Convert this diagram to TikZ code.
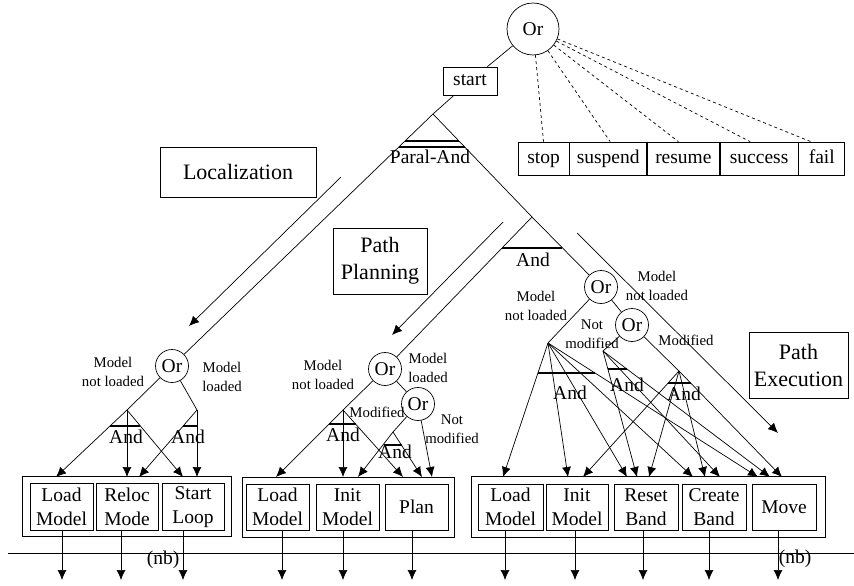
\documentclass[tikz,border=0pt]{standalone}
\usepackage{fontspec}
\setmainfont{Liberation Serif}
\usetikzlibrary{arrows.meta, positioning}
\newcommand{\boxfont}{\fontsize{19.5}{23.5}\selectfont}
\newcommand{\labfont}{\fontsize{14.8}{18.5}\selectfont}
\newcommand{\bigfont}{\fontsize{22}{27}\selectfont}
\tikzstyle{orgate} =
[
	circle
	, minimum size=33pt
	, inner sep=0pt
	, draw=black
	, font=\boxfont
]
\tikzstyle{task} =
[
	rectangle
	, minimum width=63pt
	, minimum height=47pt
	, inner sep=0pt
	, align=center
	, draw=black
	, font=\boxfont
]
\tikzstyle{status} =
[
	rectangle
	, minimum height=33pt
	, inner sep=0pt
	, text height=13pt
	, text depth=4pt
	, draw=black
	, font=\boxfont
]
\tikzstyle{group} = [rectangle, inner sep=0pt, draw=black]
\tikzstyle{phase} = [rectangle, inner sep=0pt, align=center, draw=black, font=\bigfont]
\tikzstyle{note} = [inner sep=0pt, align=center, font=\labfont]
\tikzstyle{gate} = [inner sep=0pt, font=\boxfont]
\tikzstyle{bar} = [line width=1.6pt]
\tikzstyle{arrow} = [->,>={Latex[length=10pt,width=9pt]}]
\begin{document}
\begin{tikzpicture}[x=1pt, y=-1pt, line width=0.7pt]
\useasboundingbox (0,0) rectangle (854,586);

\node(or0)[orgate, minimum size=52pt] at (533,29){Or};
\node(start)[status, minimum width=54pt, minimum height=28pt] at (470,81){start};
\node(stop)[status, minimum width=51pt] at (543.5,158.5){stop};
\node(suspend)[status, minimum width=77pt, right=0pt of stop]{suspend};
\node(resume)[status, minimum width=72pt, right=0pt of suspend]{resume};
\node(success)[status, minimum width=78pt, right=0pt of resume]{success};
\node(fail)[status, minimum width=46pt, right=0pt of success]{fail};

\node(loc)[phase, minimum width=156pt, minimum height=50pt] at (238,172){Localization};
\node(plan)[phase, minimum width=94pt, minimum height=66pt] at (380,261){Path\\Planning};
\node(exec)[phase, minimum width=99pt, minimum height=66pt] at (798.5,365){Path\\Execution};

\coordinate(paral) at (433,114);
\coordinate(and2) at (532,217);
\node(paraltxt)[gate] at (430,157){Paral-And};
\node(and2txt)[gate] at (533,260){And};

\node(or1)[orgate] at (172,366){Or};
\node(or2)[orgate] at (385,369){Or};
\node(or2b)[orgate] at (418,404){Or};
\node(or3)[orgate] at (601,287){Or};
\node(or4)[orgate] at (632,325){Or};

\coordinate(a1) at (127,410);
\coordinate(b1) at (197,410);
\coordinate(a2) at (343,410);
\coordinate(b2) at (393,432);
\coordinate(c3) at (548,343);
\coordinate(d3) at (603,351);
\coordinate(e3) at (679,371);

\node(a1txt)[gate] at (126,437){And};
\node(b1txt)[gate] at (188,437){And};
\node(a2txt)[gate] at (343,435){And};
\node(b2txt)[gate] at (395,452){And};
\node(c3txt)[gate] at (570,393){And};
\node(d3txt)[gate] at (627,385){And};
\node(e3txt)[gate] at (684,394){And};

\node(n1l)[note] at (113,372){Model\\not loaded};
\node(n1r)[note] at (222,377){Model\\loaded};
\node(n2l)[note] at (323,375){Model\\not loaded};
\node(n2r)[note] at (428,368){Model\\loaded};
\node(n2m)[note] at (377,412){Modified};
\node(n2n)[note] at (452,429){Not\\modified};
\node(n3l)[note] at (536,306){Model\\not loaded};
\node(n3r)[note] at (657,286){Model\\not loaded};
\node(n3n)[note] at (592,334){Not\\modified};
\node(n3m)[note] at (686,340){Modified};

\node(grp1)[group, minimum width=209pt, minimum height=60pt] at (126.5,506){};
\node(grp2)[group, minimum width=212pt, minimum height=60pt] at (348,507){};
\node(grp3)[group, minimum width=354pt, minimum height=61pt] at (648,506.5){};

\node(lm1)[task] at (61.5,507){Load\\Model};
\node(rm1)[task, minimum width=62pt] at (127,507){Reloc\\Mode};
\node(sl1)[task, minimum width=62pt] at (193,507){Start\\Loop};
\node(lm2)[task, minimum height=46pt] at (277.5,507){Load\\Model};
\node(im2)[task, minimum height=46pt] at (347.5,507){Init\\Model};
\node(pl2)[task, minimum height=46pt] at (416.5,507){Plan};
\node(lm3)[task, minimum width=65pt, minimum height=46pt] at (510.5,507){Load\\Model};
\node(im3)[task, minimum width=62pt, minimum height=46pt] at (577,507){Init\\Model};
\node(rb3)[task, minimum width=64pt, minimum height=46pt] at (646,507){Reset\\Band};
\node(cb3)[task, minimum width=64pt, minimum height=46pt] at (714,507){Create\\Band};
\node(mv3)[task, minimum width=64pt, minimum height=46pt] at (784,507){Move};

\node(nb1)[gate] at (163,560){(nb)};
\node(nb2)[gate] at (795,559){(nb)};

\draw(or0)--(start);
\draw(start)--(paral);
\draw[dashed](or0)--(stop.north);
\draw[dashed](or0)--([xshift=2pt]suspend.north);
\draw[dashed](or0)--([xshift=-5pt]resume.north);
\draw[dashed](or0)--([xshift=-9pt]success.north);
\draw[dashed](or0)--([xshift=-11pt]fail.north);

\draw(paral)--(or1);
\draw(paral)--(and2);
\draw(and2)--(or2);
\draw(and2)--(or3);
\draw[bar](405,141)--(459,141);
\draw[bar](399,147)--(465,147);
\draw[bar](502,248)--(562,248);

\coordinate(locfrom) at (341,177);
\coordinate(locto) at (189,326);
\coordinate(planfrom) at (503,222);
\coordinate(planto) at (392,335);
\coordinate(execfrom) at (577,233);
\coordinate(execto) at (778,433);
\draw[arrow](locfrom)--(locto);
\draw[arrow](planfrom)--(planto);
\draw[arrow](execfrom)--(execto);

\coordinate(lm1in) at (56,477);
\coordinate(rm1in) at (127,477);
\coordinate(rm1in2) at (139,477);
\coordinate(sl1in) at (183,477);
\coordinate(sl1in2) at (197,477);
\draw(or1)--(a1);
\draw(or1)--(b1);
\draw[arrow](a1)--(lm1in);
\draw[arrow](a1)--(rm1in);
\draw[arrow](a1)--(sl1in);
\draw[arrow](b1)--(rm1in2);
\draw[arrow](b1)--(sl1in2);
\draw[bar](110,426)--(140,426);
\draw[bar](183,426)--(197,426);

\coordinate(lm2in) at (276,477);
\coordinate(im2in) at (343,477);
\coordinate(im2in2) at (358,477);
\coordinate(pl2in) at (403,477);
\coordinate(pl2in2) at (422,477);
\coordinate(pl2in3) at (432,477);
\draw(or2)--(a2);
\draw(or2)--(or2b);
\draw(or2b)--(b2);
\draw[arrow](a2)--(lm2in);
\draw[arrow](a2)--(im2in);
\draw[arrow](a2)--(pl2in);
\draw[arrow](b2)--(im2in2);
\draw[arrow](b2)--(pl2in2);
\draw[arrow](or2b)--(pl2in3);
\draw[bar](329,424)--(356,424);
\draw[bar](384,445)--(402,445);

\coordinate(lm3in) at (503,477);
\coordinate(im3in) at (568,477);
\coordinate(im3in2) at (583,477);
\coordinate(rb3in) at (627,477);
\coordinate(rb3in2) at (637,477);
\coordinate(rb3in3) at (649,477);
\coordinate(cb3in) at (693,477);
\coordinate(cb3in2) at (705,477);
\coordinate(cb3in3) at (720,477);
\coordinate(mv3in) at (758,477);
\coordinate(mv3in2) at (770,477);
\coordinate(mv3in3) at (782,477);
\draw(or3)--(c3);
\draw(or3)--(or4);
\draw(or4)--(d3);
\draw(or4)--(e3);
\draw[arrow](c3)--(lm3in);
\draw[arrow](c3)--(im3in);
\draw[arrow](c3)--(rb3in);
\draw[arrow](c3)--(cb3in);
\draw[arrow](c3)--(mv3in);
\draw[arrow](d3)--(rb3in2);
\draw[arrow](d3)--(cb3in3);
\draw[arrow](d3)--(mv3in2);
\draw[arrow](e3)--(im3in2);
\draw[arrow](e3)--(rb3in3);
\draw[arrow](e3)--(cb3in2);
\draw[arrow](e3)--(mv3in3);
\draw[bar](538,373)--(595,373);
\draw[bar](608,369)--(627,369);
\draw[bar](668,383)--(691,383);

\draw(8,553)--(854,553);
\coordinate(out1) at (62,580);
\coordinate(out2) at (121,580);
\coordinate(out3) at (183,580);
\coordinate(out4) at (282,580);
\coordinate(out5) at (343,580);
\coordinate(out6) at (412,580);
\coordinate(out7) at (505,580);
\coordinate(out8) at (575,580);
\coordinate(out9) at (643,580);
\coordinate(out10) at (709,580);
\coordinate(out11) at (778,580);
\draw[arrow](lm1.south -| out1)--(out1);
\draw[arrow](rm1.south -| out2)--(out2);
\draw[arrow](sl1.south -| out3)--(out3);
\draw[arrow](lm2.south -| out4)--(out4);
\draw[arrow](im2.south -| out5)--(out5);
\draw[arrow](pl2.south -| out6)--(out6);
\draw[arrow](lm3.south -| out7)--(out7);
\draw[arrow](im3.south -| out8)--(out8);
\draw[arrow](rb3.south -| out9)--(out9);
\draw[arrow](cb3.south -| out10)--(out10);
\draw[arrow](mv3.south -| out11)--(out11);

\end{tikzpicture}
\end{document}
